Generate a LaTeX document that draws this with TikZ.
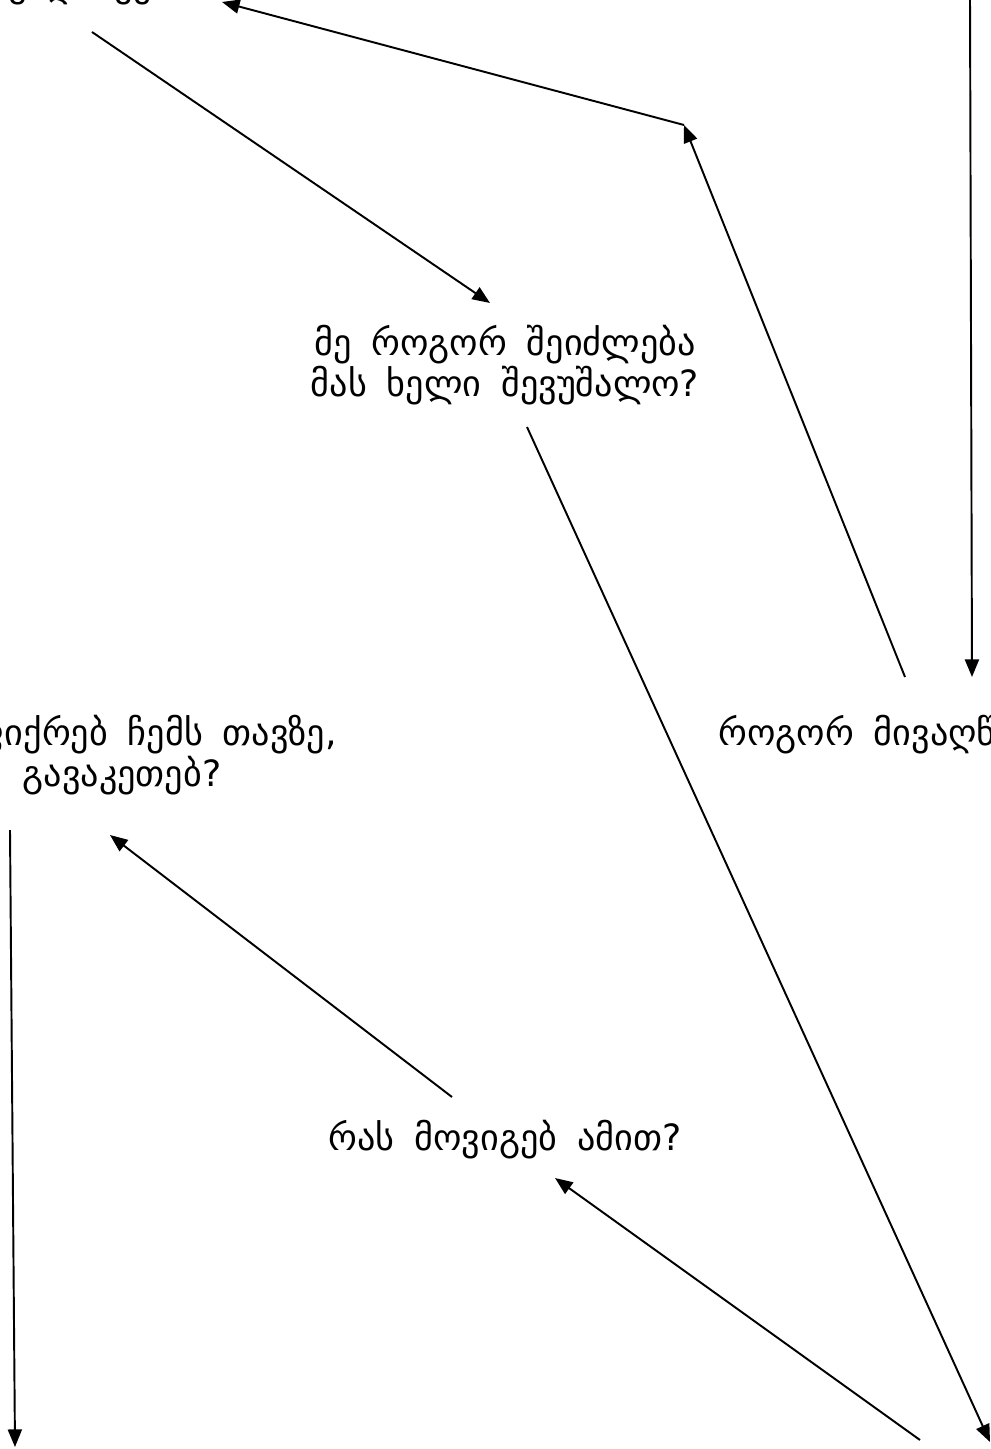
\documentclass[tikz,border=0pt]{standalone}
\usepackage{fontspec}
\setmainfont{DejaVu Sans}
\usetikzlibrary{arrows.meta}

\newcommand{\qfont}{\fontsize{20.6}{23}\selectfont\spaceskip=0.55em\relax}

\tikzset{
    qtext/.style={align=center, font=\qfont, inner sep=0pt},
    link/.style={-{Triangle[length=10pt,width=8pt]}, line width=1.1pt}
}

\begin{document}
\begin{tikzpicture}[x=0.02cm,y=-0.02cm]
    \useasboundingbox (0,0) rectangle (990,1449);
    \clip (0,0) rectangle (990,1449);

    % questions
    \node[qtext] (what)   at (75,-14)  {რა უნდა ვქნა?};
    \node[qtext] (hinder) at (505,365) {მე როგორ შეიძლება\\მას ხელი შევუშალო?};
    \node[qtext, anchor=base west] (reach) at (718,745) {როგორ მივაღწიო მიზანს?};
    \node[qtext] (think)  at (122,755) {თუ ფიქრებ ჩემს თავზე,\\გავაკეთებ?};
    \node[qtext] (gain)   at (505,1140) {რას მოვიგებ ამით?};

    % connector ends
    \coordinate (what-out)   at (92,32);
    \coordinate (what-in)    at (222,2);
    \coordinate (hinder-in)  at (490,303);
    \coordinate (hinder-out) at (527,427);
    \coordinate (reach-in)   at (972,677);
    \coordinate (reach-out)  at (905,677);
    \coordinate (bend)       at (684,125);
    \coordinate (gain-in)    at (555,1178);
    \coordinate (gain-out)   at (452,1097);
    \coordinate (think-in)   at (110,835);
    \coordinate (think-out)  at (10,830);
    \coordinate (top-right)  at (970,0);
    \coordinate (low-right)  at (990,1442);
    \coordinate (low-from)   at (920,1440);
    \coordinate (low-left)   at (15,1447);

    % arrows
    \draw[link] (what-out) -- (hinder-in);
    \draw[link] (hinder-out) -- (low-right);
    \draw[link] (low-from) -- (gain-in);
    \draw[link] (gain-out) -- (think-in);
    \draw[link] (think-out) -- (low-left);
    \draw[link] (top-right) -- (reach-in);
    \draw[link] (reach-out) -- (bend);
    \draw[link] (bend) -- (what-in);

\end{tikzpicture}
\end{document}
